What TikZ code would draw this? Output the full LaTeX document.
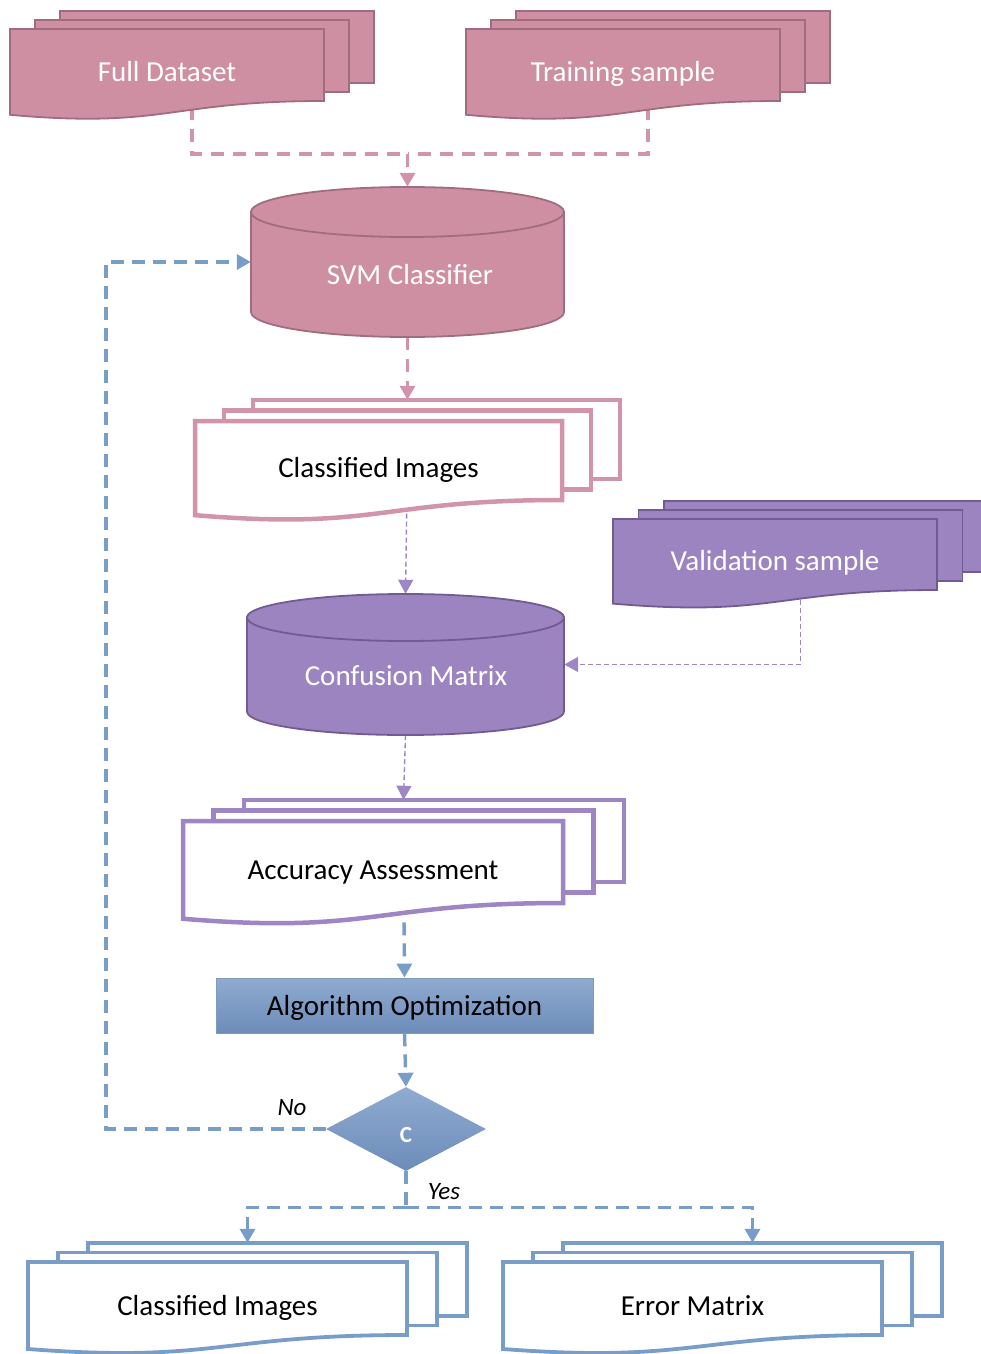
\documentclass[tikz,border=0pt]{standalone}
\usepackage{fontspec}
\setmainfont{Carlito}
\usetikzlibrary{arrows.meta,shapes.geometric}
\pgfdeclarelayer{bg}
\pgfsetlayers{bg,main}

\definecolor{pinkfill}{HTML}{CF8FA3}
\definecolor{pinkedge}{HTML}{A26C7F}
\definecolor{pinkline}{HTML}{D294A9}
\definecolor{purpfill}{HTML}{9C84C0}
\definecolor{purpedge}{HTML}{705C93}
\definecolor{purpline}{HTML}{9E85C3}
\definecolor{blueline}{HTML}{779DC8}
\definecolor{bluetop}{HTML}{8FABD0}
\definecolor{bluebot}{HTML}{6C8CB9}

\tikzset{
  filledpink/.style={fill=pinkfill,draw=pinkedge,line width=1.8},
  filledpurp/.style={fill=purpfill,draw=purpedge,line width=1.8},
  outpink/.style={fill=white,draw=pinkline,line width=4.5},
  outpurp/.style={fill=white,draw=purpline,line width=4.5},
  outblue/.style={fill=white,draw=blueline,line width=3.8},
  doctext/.style={font=\fontsize{29}{34}\selectfont,inner sep=0,text=black,text height=19pt,text depth=0pt},
  doctextw/.style={doctext,text=white},
  tip/.style={-{Triangle[length=14pt,width=15pt]}},
  pinkflow/.style={draw=pinkline,line width=3.4,dash pattern=on 13pt off 9pt},
  purpflow/.style={draw=purpline,line width=1.4,dash pattern=on 5pt off 3pt},
  blueflow/.style={draw=blueline,line width=3.4,dash pattern=on 13pt off 8pt},
  answer/.style={font=\fontsize{25}{30}\selectfont\itshape,inner sep=0,text height=16pt,text depth=0pt},
}

% stacked documents: style, name, front left/top/right/bottom, x step, y step, text style
\newcommand\mdoc[9]{%
  \pgfmathsetmacro\mdH{#6-#4}%
  \pgfmathsetmacro\mdM{(#3+#5)/2}%
  \pgfmathsetmacro\mdL{#6+0.192*\mdH}%
  \pgfmathsetmacro\mdD{#6+0.385*\mdH}%
  \path[#1] ({#3+2*#7},{#4-2*#8}) rectangle ({#5+2*#7},{#6-2*#8});
  \path[#1] ({#3+#7},{#4-#8}) rectangle ({#5+#7},{#6-#8});
  \path[#1] (#3,#4) -- (#5,#4) -- (#5,#6) .. controls (\mdM,#6) and (\mdM,\mdD) .. (#3,\mdL) -- cycle;
  \node[inner sep=0,minimum width={#5-#3+2*#7},minimum height={\mdL-#4+2*#8}] (#2) at ({\mdM+#7},{(#4-2*#8+\mdL)/2}) {};
  \node[inner sep=0,minimum width={#5-#3},minimum height={#6-#4}] (#2-b) at ({\mdM+2*#7},{(#4+#6)/2-2*#8}) {};
  \node[#9] (#2-t) at (\mdM,{(#4+\mdL)/2})
}

% database cylinder: style, name, left, right, top, bottom, rim radius
\newcommand\cyl[7]{%
  \pgfmathsetmacro\cyM{(#3+#4)/2}%
  \pgfmathsetmacro\cyR{(#4-#3)/2}%
  \pgfmathsetmacro\cyA{#5+#7}%
  \pgfmathsetmacro\cyB{#6-#7}%
  \pgfmathsetmacro\cyKx{0.5523*\cyR}%
  \pgfmathsetmacro\cyKy{0.5523*#7}%
  \path[#1] (#3,\cyA) -- (#3,\cyB) .. controls (#3,{\cyB+\cyKy}) and ({\cyM-\cyKx},#6) .. (\cyM,#6)
     .. controls ({\cyM+\cyKx},#6) and (#4,{\cyB+\cyKy}) .. (#4,\cyB) -- (#4,\cyA) -- cycle;
  \path[#1] (\cyM,\cyA) ellipse [x radius=\cyR, y radius=#7];
  \node[inner sep=0,minimum width={#4-#3},minimum height={#6-#5}] (#2) at (\cyM,{(#5+#6)/2}) {};
}

\begin{document}
\begin{tikzpicture}[x=1pt,y=-1pt]
\useasboundingbox (0,0) rectangle (981,1354);
\clip (0,0) rectangle (981,1354);

% inputs
\mdoc{filledpink}{fd}{10}{29}{324}{101}{25}{9}{doctextw}{Full Dataset};
\mdoc{filledpink}{ts}{466}{29}{780}{101}{25}{9}{doctextw}{Training sample};

% classifier
\cyl{filledpink}{svm}{251}{564}{187}{337}{25}
\node[doctextw] (svm-t) at (410,275) {SVM Classifier};

\mdoc{outpink}{ci}{195}{421}{562}{500}{29}{10.5}{doctext}{Classified Images};
\mdoc{filledpurp}{vs}{613}{519}{937}{590}{25.5}{9}{doctextw}{Validation sample};

\cyl{filledpurp}{cm}{247}{564}{594}{735}{23.5}
\node[doctextw] (cm-t) at (406,676) {Confusion Matrix};

\mdoc{outpurp}{aa}{183}{821}{563}{903}{30.5}{10.5}{doctext}{Accuracy Assessment};

\node[doctext,rectangle,minimum width=377,minimum height=55,top color=bluetop,bottom color=bluebot,draw=bluetop!90!black,line width=0.8] (ao) at (404.5,1005.5) {Algorithm Optimization};

% decision
\node[diamond,minimum width=160,minimum height=84,inner sep=0,top color=bluetop,bottom color=bluebot] (dc) at (406,1129) {};
\node[text=white,font=\fontsize{23}{27}\selectfont\bfseries,inner sep=0,text height=15pt,text depth=0pt] (dc-t) at (406,1135) {C};

% outputs
\mdoc{outblue}{ci2}{28}{1262}{407}{1335}{30}{9.5}{doctext}{Classified Images};
\mdoc{outblue}{em}{503}{1262}{882}{1335}{30}{9.5}{doctext}{Error Matrix};

\node[answer] (no) at (292,1107) {No};
\node[answer] (yes) at (444,1191) {Yes};

\path (svm.north) ++(0,-33) coordinate (merge);
\path (dc.south) ++(0,36) coordinate (split);
\coordinate (loopx) at (106,0);

\begin{pgfonlayer}{bg}
  \draw[pinkflow] (fd.center) |- (merge);
  \draw[pinkflow] (ts.center) |- (merge);
  \draw[pinkflow,tip] (merge) -- (svm.north);
  \draw[pinkflow,tip] (svm.south) -- (svm.south |- ci.north);
  \draw[purpflow,tip] (ci.center) -- (cm.north);
  \draw[purpflow,tip] (vs.center) |- (cm.east);
  \draw[purpflow,tip] (cm.south) -- (aa.north);
  \draw[blueflow,tip] (aa.center) -- (ao.north);
  \draw[blueflow,tip] (ao.south) -- (dc.north);
  \draw[blueflow,tip] (dc.west) -| (loopx |- svm.west) -- (svm.west);
  \draw[blueflow] (dc.south) -- (split);
  \draw[blueflow,tip] (split) -| (ci2.north);
  \draw[blueflow,tip] (split) -| (em-b.north);
\end{pgfonlayer}
\end{tikzpicture}
\end{document}
